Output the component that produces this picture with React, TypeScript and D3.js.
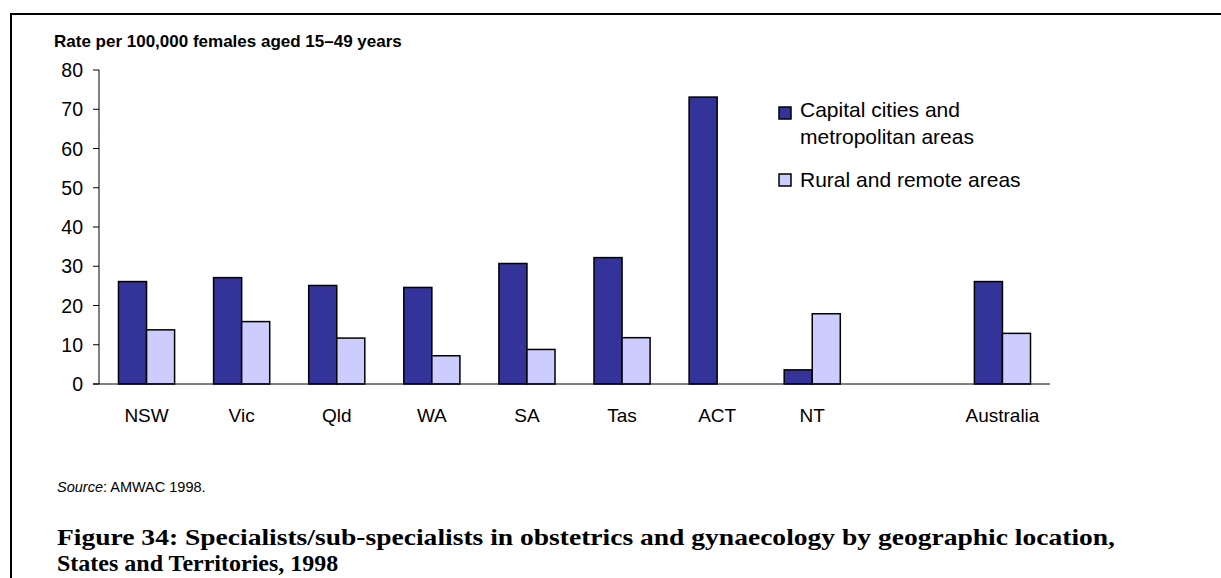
import React from "react";
import * as d3 from "d3";

const categories = ["NSW", "Vic", "Qld", "WA", "SA", "Tas", "ACT", "NT", "", "Australia"];
const capitalValues: (number | null)[] = [26.1, 27.1, 25.1, 24.6, 30.7, 32.2, 73.1, 3.6, null, 26.1];
const ruralValues: (number | null)[] = [13.8, 15.9, 11.7, 7.2, 8.8, 11.8, 0, 17.9, null, 12.9];
const yTicks = [0, 10, 20, 30, 40, 50, 60, 70, 80];
const seriesNames = ["Capital cities and|metropolitan areas", "Rural and remote areas"];
const seriesColors = ["#333399", "#CCCCFF"];
const yTitle = "Rate per 100,000 females aged 15\u201349 years";
const captionLines = [
  "Figure 34: Specialists/sub-specialists in obstetrics and gynaecology by geographic location,",
  "States and Territories, 1998",
];

const W = 1221;
const H = 578;
const sans = "'Liberation Sans', Arial, sans-serif";
const serif = "'Liberation Serif', 'Times New Roman', serif";

export default function App() {
  const x = d3.scaleBand<string>().domain(categories).range([99, 1050]).padding(0);
  const y = d3.scaleLinear().domain([0, 80]).range([384, 70]);
  const bw = x.bandwidth();
  const barW = bw * 0.295;
  const off = (bw - 2 * barW) / 2;
  const series = [capitalValues, ruralValues];
  const legendSquareY = [107, 174];
  const legendBaseY = [116.5, 187];

  return (
    <svg
      width={W}
      height={H}
      style={{ position: "absolute", left: 0, top: 0, background: "#fff" }}
    >
      <rect x={0} y={0} width={W} height={H} fill="#fff" />
      {/* frame */}
      <path d={`M11,${H} L11,14 L${W},14`} fill="none" stroke="#000" strokeWidth={2} />

      {/* y title */}
      <text x={54} y={47} fontFamily={sans} fontWeight="bold" fontSize={17} fill="#000">
        {yTitle}
      </text>

      {/* bars */}
      {series.map((vals, si) =>
        categories.map((c, i) => {
          const v = vals[i];
          if (v == null || v <= 0) return null;
          const bx = (x(c) as number) + off + si * barW;
          return (
            <rect
              key={`${si}-${i}`}
              x={bx}
              y={y(v)}
              width={barW}
              height={y(0) - y(v)}
              fill={seriesColors[si]}
              stroke="#000"
              strokeWidth={1.5}
            />
          );
        })
      )}

      {/* y axis */}
      <line x1={99} x2={99} y1={y(0)} y2={y(80)} stroke="#000" strokeWidth={1} />
      {yTicks.map((t) => (
        <g key={t}>
          <line x1={93} x2={99} y1={y(t)} y2={y(t)} stroke="#000" strokeWidth={1} />
          <text
            x={83}
            y={y(t)}
            dy="0.36em"
            textAnchor="end"
            fontFamily={sans}
            fontSize={19.5}
            fill="#000"
          >
            {t}
          </text>
        </g>
      ))}
      {/* x axis */}
      <line x1={93} x2={1050} y1={y(0)} y2={y(0)} stroke="#000" strokeWidth={1} />
      {categories.map((c) => (
        <text
          key={c || "blank"}
          x={(x(c) as number) + bw / 2}
          y={422}
          textAnchor="middle"
          fontFamily={sans}
          fontSize={19}
          fill="#000"
        >
          {c}
        </text>
      ))}

      {/* legend */}
      {seriesNames.map((n, i) => {
        const lines = n.split("|");
        return (
          <g key={n}>
            <rect
              x={779}
              y={legendSquareY[i]}
              width={12}
              height={12}
              fill={seriesColors[i]}
              stroke="#000"
              strokeWidth={1.5}
            />
            {lines.map((l, j) => (
              <text
                key={l}
                x={800}
                y={legendBaseY[i] + j * 27}
                fontFamily={sans}
                fontSize={21}
                fill="#000"
              >
                {l}
              </text>
            ))}
          </g>
        );
      })}

      {/* source */}
      <text x={57} y={492} fontFamily={sans} fontSize={14.5} fill="#000">
        <tspan fontStyle="italic">Source</tspan>: AMWAC 1998.
      </text>

      {/* caption */}
      <text
        x={57}
        y={545}
        fontFamily={serif}
        fontWeight="bold"
        fontSize={24}
        fill="#000"
        textLength={1058}
        lengthAdjust="spacingAndGlyphs"
      >
        {captionLines[0]}
      </text>
      <text x={57} y={571} fontFamily={serif} fontWeight="bold" fontSize={24} fill="#000">
        {captionLines[1]}
      </text>
    </svg>
  );
}
